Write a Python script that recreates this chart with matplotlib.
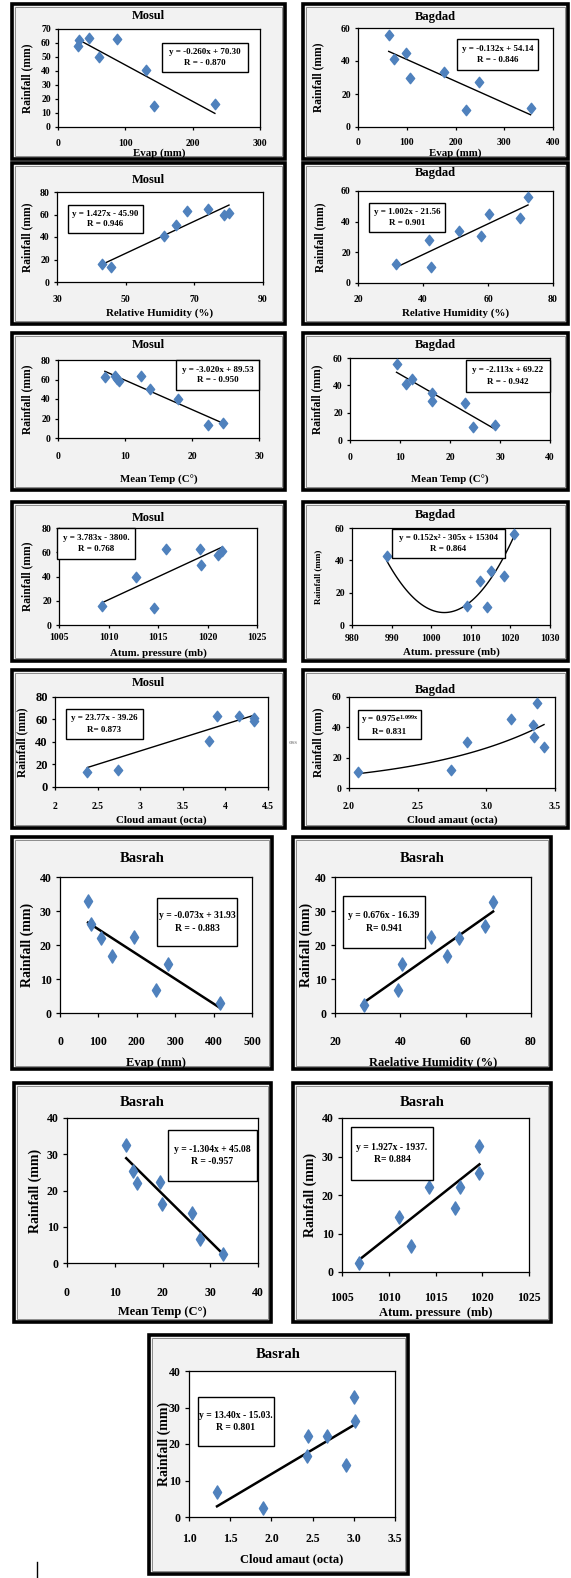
import numpy as np
import matplotlib.pyplot as plt
from matplotlib.patches import Rectangle
from matplotlib.path import Path

plt.rcParams['font.family'] = ['Liberation Serif', 'DejaVu Serif']
plt.rcParams['font.weight'] = 'bold'
plt.rcParams['mathtext.fontset'] = 'custom'
plt.rcParams['mathtext.rm'] = 'Liberation Serif:bold'
plt.rcParams['mathtext.it'] = 'Liberation Serif:bold'
plt.rcParams['mathtext.bf'] = 'Liberation Serif:bold'

W, H = 571, 1578

# ---- data ----
mosul_evap = [30, 31, 46, 61, 87, 131, 142, 233]
mosul_evap_rain = [58, 62, 63.5, 50, 63, 40.8, 14.9, 16.3]
bagdad_evap = [63, 73, 98, 107, 176, 222, 248, 354]
bagdad_evap_rain = [55.5, 41, 44.6, 29.7, 33.4, 10.4, 27.2, 11.5]

mosul_rh = [43.1, 45.8, 61.3, 64.8, 67.9, 74, 78.7, 80.1]
mosul_rh_rain = [15.7, 13.3, 40.6, 50.4, 63.1, 65.2, 59.3, 61.6]
bagdad_rh = [31.8, 41.8, 42.6, 51, 57.9, 60.3, 69.7, 72.3]
bagdad_rh_rain = [12.2, 27.8, 10.4, 33.7, 30.4, 45.2, 42.4, 56.1]

mosul_temp = [7, 8.5, 8.8, 9.1, 12.4, 13.7, 17.9, 22.4, 24.7]
mosul_temp_rain = [62.3, 63.5, 60.5, 58, 64, 50, 40.2, 13.6, 15.3]
bagdad_temp = [9.3, 11.1, 12.3, 16.3, 16.3, 23, 24.5, 29]
bagdad_temp_rain = [55.6, 40.9, 44.8, 34.3, 28.9, 26.9, 9.8, 11]

mosul_press = [1009.3, 1012.8, 1014.6, 1015.8, 1019.2, 1019.3, 1021.1, 1021.5]
mosul_press_rain = [15.7, 40, 14.3, 62.6, 62.6, 49.1, 57.9, 60.7]
bagdad_press = [988.8, 1009, 1012.2, 1014, 1015.1, 1018.5, 1020.8]
bagdad_press_rain = [42.4, 12, 27.5, 11, 33.7, 30.4, 56.5]

mosul_cloud = [2.38, 2.74, 3.81, 3.9, 4.16, 4.34, 4.34]
mosul_cloud_rain = [13, 15.4, 40.6, 62.8, 63.4, 61.3, 58.4]
bagdad_cloud = [2.066, 2.74, 2.856, 3.18, 3.343, 3.35, 3.367, 3.42]
bagdad_cloud_rain = [10.6, 11.7, 30.5, 45.4, 41.6, 33.4, 56, 27.2]

basrah_evap = [73, 80, 106, 135, 192, 249, 282, 417]
basrah_evap_rain = [32.9, 26.2, 22.1, 16.7, 22.3, 6.9, 14.3, 2.9]
basrah_rh = [28.9, 39.3, 40.4, 49.5, 54.3, 58.1, 65.9, 68.4]
basrah_rh_rain = [2.5, 6.9, 14.4, 22.3, 16.7, 22.1, 25.7, 32.7]
basrah_temp = [12.4, 13.9, 14.7, 19.5, 19.9, 26.2, 27.9, 32.7]
basrah_temp_rain = [32.6, 25.5, 22, 22.3, 16.4, 13.9, 6.5, 2.5]
basrah_press = [1006.8, 1011.1, 1012.4, 1014.3, 1017.1, 1017.6, 1019.7, 1019.7]
basrah_press_rain = [2.3, 14.2, 6.7, 22.2, 16.5, 22, 32.6, 25.7]
basrah_cloud = [1.34, 1.9, 2.43, 2.45, 2.68, 2.9, 3.0, 3.02]
basrah_cloud_rain = [6.9, 2.5, 16.7, 22.3, 22.3, 14.3, 32.9, 26.2]

# trendline coefficients as printed on the charts
lin_coef = {
    'mosul_evap': (-0.260, 70.30), 'bagdad_evap': (-0.132, 54.14),
    'mosul_rh': (1.427, -45.90), 'bagdad_rh': (1.002, -21.56),
    'mosul_temp': (-3.020, 89.53), 'bagdad_temp': (-2.113, 69.22),
    'mosul_press': (3.783, -3800.0), 'mosul_cloud': (23.77, -39.26),
    'basrah_evap': (-0.073, 31.93), 'basrah_rh': (0.676, -16.39),
    'basrah_temp': (-1.304, 45.08), 'basrah_press': (1.927, -1937.0),
    'basrah_cloud': (13.40, -15.03),
}
quad_a, quad_b, quad_min = 0.152, -305.0, 7.7   # bagdad pressure (vertex form)
exp_a, exp_k = 0.975, 1.099                      # bagdad cloud


def diamond(ratio):
    return Path([(0, 1), (ratio, 0), (0, -1), (-ratio, 0), (0, 1)], closed=True)


SMALL = dict(tick=7, title=9, label=7.8, ylab=8.3, eq=6.5, ms=7.5, mw=0.8, lw=1.0, tl=3)
BIG = dict(tick=8.5, title=10.5, label=9, ylab=10, eq=6.9, ms=9.5, mw=0.62, lw=1.8, tl=4)

fig = plt.figure(figsize=(W / 100, H / 100), dpi=100)
fig.patch.set_facecolor('white')


def fx(px):
    return px / W


def fy(py):
    return 1 - py / H


def frame_box(x0, y0, x1, y1):
    fig.patches.append(Rectangle((fx(x0), fy(y1)), (x1 - x0) / W, (y1 - y0) / H,
                                 transform=fig.transFigure, facecolor='#f2f2f2',
                                 edgecolor='black', lw=2.6, zorder=-2))
    fig.patches.append(Rectangle((fx(x0 + 3), fy(y1 - 3)), (x1 - x0 - 6) / W, (y1 - y0 - 6) / H,
                                 transform=fig.transFigure, facecolor='none',
                                 edgecolor='#8c8c8c', lw=0.7, zorder=-1))


def draw(frame, plot, title, xs, ys, xlim, xticks, xticklabels, ylim, yticks,
         xlabel, eq, eqbox, fit, title_y, xtick_y, xlab_y, ylab_x, st,
         ylab_fs=None, ytick_fs=None):
    frame_box(*frame)
    x0, y0, x1, y1 = plot
    ax = fig.add_axes([fx(x0), fy(y1), (x1 - x0) / W, (y1 - y0) / H])
    ax.set_facecolor('white')
    ax.plot(xs, ys, linestyle='none', marker=diamond(st['mw']), ms=st['ms'],
            mfc='#4f81bd', mec='#4f81bd', zorder=3, clip_on=False)
    ax.plot(fit[0], fit[1], color='black', lw=st['lw'], zorder=2)
    ax.set_xlim(*xlim)
    ax.set_ylim(*ylim)
    ax.set_xticks(xticks)
    ax.set_xticklabels(xticklabels)
    ax.set_yticks(yticks)
    for s in ax.spines.values():
        s.set_linewidth(0.9)
    fs_px = st['tick'] * 100 / 72
    pad_px = xtick_y - y1 - st['tl'] - 0.55 * fs_px
    ax.tick_params(axis='x', direction='out', length=st['tl'] * 0.72, width=0.9,
                   labelsize=st['tick'], pad=max(pad_px, 0) * 0.72)
    ax.tick_params(axis='y', direction='out', length=st['tl'] * 0.72, width=0.9,
                   labelsize=ytick_fs or st['tick'], pad=3)
    cx = (frame[0] + frame[2]) / 2
    fig.text(fx(cx), fy(title_y), title, ha='center', va='center',
             fontsize=st['title'], fontweight='bold')
    fig.text(fx((x0 + x1) / 2), fy(xlab_y), xlabel, ha='center', va='center',
             fontsize=st['label'], fontweight='bold')
    fig.text(fx(ylab_x), fy((y0 + y1) / 2), 'Rainfall (mm)', rotation=90,
             ha='center', va='center', fontsize=ylab_fs or st['ylab'], fontweight='bold')
    ex0, ey0, ex1, ey1 = eqbox
    fig.patches.append(Rectangle((fx(ex0), fy(ey1)), (ex1 - ex0) / W, (ey1 - ey0) / H,
                                 transform=fig.transFigure, facecolor='white',
                                 edgecolor='black', lw=1.0, zorder=5))
    fig.text(fx((ex0 + ex1) / 2), fy((ey0 + ey1) / 2), eq, ha='center', va='center',
             multialignment='center', fontsize=st['eq'], fontweight='bold',
             linespacing=1.5, zorder=6)


def lin_fit(key, xs):
    m, b = lin_coef[key]
    xx = np.array([min(xs), max(xs)])
    return xx, m * xx + b


# Mosul / Bagdad
draw((12, 4, 285, 159), (58, 29, 260, 127), 'Mosul', mosul_evap, mosul_evap_rain,
     (0, 300), [0, 100, 200, 300], ['0', '100', '200', '300'], (0, 70), range(0, 71, 10),
     'Evap (mm)', 'y = -0.260x + 70.30\nR = - 0.870', (162, 43, 248, 72),
     lin_fit('mosul_evap', mosul_evap), 16, 144, 153, 27, SMALL)
draw((303, 4, 568, 159), (358, 28, 553, 127), 'Bagdad', bagdad_evap, bagdad_evap_rain,
     (0, 400), [0, 100, 200, 300, 400], ['0', '100', '200', '300', '400'], (0, 60), [0, 20, 40, 60],
     'Evap (mm)', 'y = -0.132x + 54.14\nR = - 0.846', (457, 39, 538, 70),
     lin_fit('bagdad_evap', bagdad_evap), 17, 143, 153, 318, SMALL)

draw((12, 163, 285, 324), (57, 192, 263, 282), 'Mosul', mosul_rh, mosul_rh_rain,
     (30, 90), [30, 50, 70, 90], ['30', '50', '70', '90'], (0, 80), [0, 20, 40, 60, 80],
     'Relative Humidity (%)', 'y = 1.427x - 45.90\nR = 0.946', (68, 205, 143, 233),
     lin_fit('mosul_rh', mosul_rh), 180, 300, 313, 27, SMALL)
draw((303, 163, 568, 324), (358, 191, 553, 283), 'Bagdad', bagdad_rh, bagdad_rh_rain,
     (20, 80), [20, 40, 60, 80], ['20', '40', '60', '80'], (0, 60), [0, 20, 40, 60],
     'Relative Humidity (%)', 'y = 1.002x - 21.56\nR = 0.901', (369, 203, 445, 232),
     lin_fit('bagdad_rh', bagdad_rh), 173, 300, 313, 320, SMALL)

draw((12, 333, 285, 490), (58, 360, 259, 438), 'Mosul', mosul_temp, mosul_temp_rain,
     (0, 30), [0, 10, 20, 30], ['0', '10', '20', '30'], (0, 80), [0, 20, 40, 60, 80],
     'Mean Temp (C°)', 'y = -3.020x + 89.53\nR = - 0.950', (176, 360, 259, 390),
     lin_fit('mosul_temp', mosul_temp), 345, 457, 480, 27, SMALL)
draw((303, 333, 568, 490), (350, 358, 550, 440), 'Bagdad', bagdad_temp, bagdad_temp_rain,
     (0, 40), [0, 10, 20, 30, 40], ['0', '10', '20', '30', '40'], (0, 60), [0, 20, 40, 60],
     'Mean Temp (C°)', 'y = -2.113x + 69.22\nR = - 0.942', (466, 360, 550, 392),
     lin_fit('bagdad_temp', bagdad_temp), 345, 458, 480, 317, SMALL)

draw((12, 502, 285, 661), (59, 528, 257, 625), 'Mosul', mosul_press, mosul_press_rain,
     (1005, 1025), [1005, 1010, 1015, 1020, 1025], ['1005', '1010', '1015', '1020', '1025'],
     (0, 80), [0, 20, 40, 60, 80],
     'Atum. pressure (mb)', 'y = 3.783x - 3800.\nR = 0.768', (57, 528, 135, 559),
     lin_fit('mosul_press', mosul_press), 518, 638, 653, 27, SMALL)
qx = np.linspace(min(bagdad_press), max(bagdad_press), 80)
qh = -quad_b / (2 * quad_a)
draw((303, 502, 568, 661), (352, 528, 550, 625), 'Bagdad', bagdad_press, bagdad_press_rain,
     (980, 1030), [980, 990, 1000, 1010, 1020, 1030],
     ['980', '990', '1000', '1010', '1020', '1030'], (0, 60), [0, 20, 40, 60],
     'Atum. pressure (mb)', 'y = 0.152x² - 305x + 15304\nR = 0.864', (392, 529, 505, 558),
     (qx, quad_a * (qx - qh) ** 2 + quad_min), 515, 639, 652, 318, SMALL, ylab_fs=6.5)

draw((12, 670, 285, 828), (55, 697, 268, 787), 'Mosul', mosul_cloud, mosul_cloud_rain,
     (2, 4.5), [2, 2.5, 3, 3.5, 4, 4.5], ['2', '2.5', '3', '3.5', '4', '4.5'],
     (0, 80), [0, 20, 40, 60, 80],
     'Cloud amaut (octa)', 'y = 23.77x - 39.26\nR= 0.873', (66, 709, 143, 739),
     lin_fit('mosul_cloud', mosul_cloud), 683, 807, 820, 22, SMALL, ytick_fs=9)
ex = np.linspace(min(bagdad_cloud), max(bagdad_cloud), 60)
draw((303, 670, 568, 828), (349, 697, 555, 788), 'Bagdad', bagdad_cloud, bagdad_cloud_rain,
     (2.0, 3.5), [2.0, 2.5, 3.0, 3.5], ['2.0', '2.5', '3.0', '3.5'], (0, 60), [0, 20, 40, 60],
     'Cloud amaut (octa)', 'y = 0.975e$^{1.099x}$\nR= 0.831', (358, 710, 421, 739),
     (ex, exp_a * np.exp(exp_k * ex)), 690, 807, 820, 318, SMALL)

# Basrah
draw((12, 837, 272, 1069), (60, 877, 252, 1013), 'Basrah', basrah_evap, basrah_evap_rain,
     (0, 500), range(0, 501, 100), ['0', '100', '200', '300', '400', '500'],
     (0, 40), range(0, 41, 10),
     'Evap (mm)', 'y = -0.073x + 31.93\nR = - 0.883', (157, 898, 237, 946),
     lin_fit('basrah_evap', basrah_evap), 858, 1042, 1063, 27, BIG)
draw((293, 837, 551, 1069), (335, 877, 531, 1013), 'Basrah', basrah_rh, basrah_rh_rain,
     (20, 80), [20, 40, 60, 80], ['20', '40', '60', '80'], (0, 40), range(0, 41, 10),
     'Raelative Humidity (%)', 'y = 0.676x - 16.39\nR= 0.941', (343, 896, 425, 948),
     lin_fit('basrah_rh', basrah_rh), 858, 1042, 1063, 306, BIG)
draw((14, 1083, 271, 1322), (67, 1118, 258, 1263), 'Basrah', basrah_temp, basrah_temp_rain,
     (0, 40), range(0, 41, 10), ['0', '10', '20', '30', '40'], (0, 40), range(0, 41, 10),
     'Mean Temp (C°)', 'y = -1.304x + 45.08\nR = -0.957', (168, 1130, 257, 1181),
     lin_fit('basrah_temp', basrah_temp), 1103, 1293, 1312, 35, BIG)
draw((293, 1083, 551, 1322), (342, 1118, 529, 1272), 'Basrah', basrah_press, basrah_press_rain,
     (1005, 1025), [1005, 1010, 1015, 1020, 1025], ['1005', '1010', '1015', '1020', '1025'],
     (0, 40), range(0, 41, 10),
     'Atum. pressure  (mb)', 'y = 1.927x - 1937.\nR= 0.884', (351, 1127, 433, 1180),
     lin_fit('basrah_press', basrah_press), 1103, 1298, 1313, 310, BIG)
draw((149, 1335, 408, 1574), (189, 1371, 395, 1517), 'Basrah', basrah_cloud, basrah_cloud_rain,
     (1.0, 3.5), [1.0, 1.5, 2.0, 2.5, 3.0, 3.5], ['1.0', '1.5', '2.0', '2.5', '3.0', '3.5'],
     (0, 40), range(0, 41, 10),
     'Cloud amaut (octa)', 'y = 13.40x - 15.03.\nR = 0.801', (198, 1397, 274, 1446),
     lin_fit('basrah_cloud', basrah_cloud), 1354, 1539, 1559, 164, BIG)

# stray marks in the scan
fig.text(fx(293), fy(742), 'oss', fontsize=5, color='#999999', ha='center', va='center')
fig.lines.append(plt.Line2D([fx(37), fx(37)], [fy(1562), fy(1578)], color='black',
                            lw=1, transform=fig.transFigure))

fig.savefig('out.png', dpi=100)
